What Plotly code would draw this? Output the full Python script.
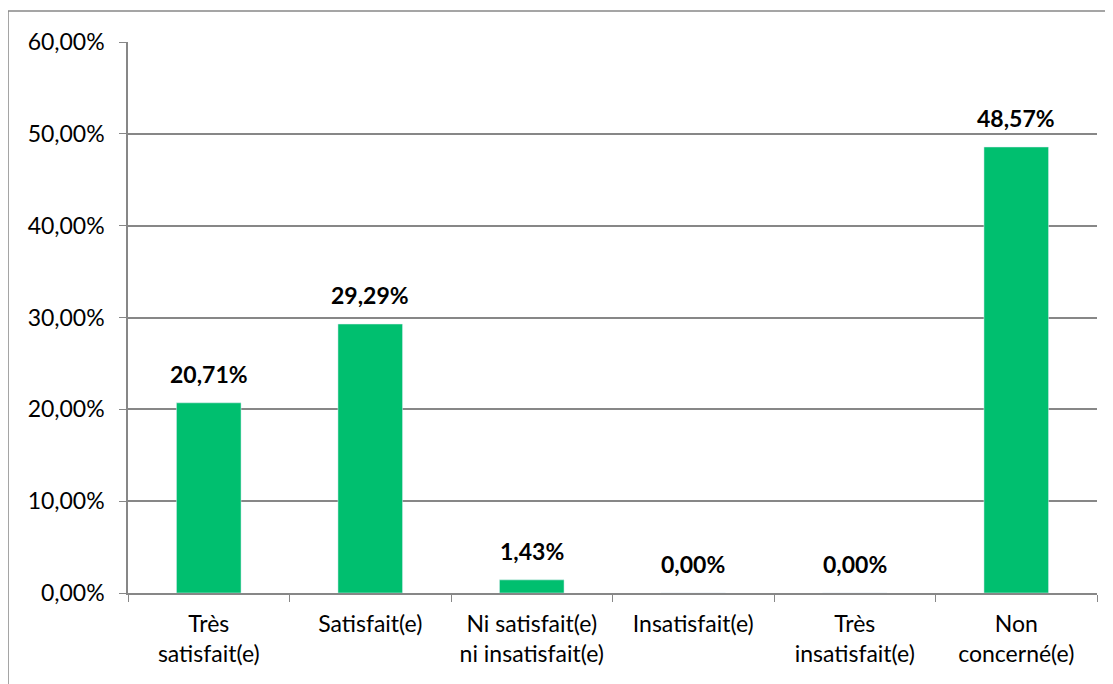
import plotly.graph_objects as go

categories = ["Très<br>satisfait(e)", "Satisfait(e)", "Ni satisfait(e)<br>ni insatisfait(e)",
              "Insatisfait(e)", "Très<br>insatisfait(e)", "Non<br>concerné(e)"]
values = [0.2071, 0.2929, 0.0143, 0.0, 0.0, 0.4857]

FONT = "Lato"
GRID = "#878787"
BAR = "#00BF6F"

# page has an 8px body margin; figure sized to fit the window
W, H = 1105, 676
L, R, T, B = 120, 16, 34, 91
pw, ph = W - L - R, H - T - B

fig = go.Figure()
fig.add_trace(go.Bar(x=categories, y=values, marker_color=BAR, width=0.4, hoverinfo="skip"))

for c, v in zip(categories, values):
    fig.add_annotation(x=c, y=v, text="<b>%s</b>" % ("{:.2f}%".format(v * 100).replace(".", ",")),
                       showarrow=False, yanchor="bottom", yshift=13,
                       font=dict(family=FONT, size=23, color="#000000"))

# chart outer border (top and left visible)
bx = (0 - L) / pw
by = 1 + (T - 3) / ph
fig.add_shape(type="line", xref="paper", yref="paper", x0=bx, x1=1.05, y0=by, y1=by,
              line=dict(color=GRID, width=1.5))
fig.add_shape(type="line", xref="paper", yref="paper", x0=bx, x1=bx, y0=by, y1=-0.3,
              line=dict(color=GRID, width=1.5))

fig.update_layout(
    width=W, height=H,
    margin=dict(l=L, r=R, t=T, b=B),
    paper_bgcolor="white", plot_bgcolor="white",
    separators=",.",
    showlegend=False,
    font=dict(family=FONT, size=23, color="#000000"),
)
fig.update_yaxes(range=[0, 0.6], dtick=0.1, tickformat=".2%", showgrid=True, gridcolor=GRID, gridwidth=1.5,
                 showline=True, linecolor=GRID, linewidth=1.5, ticks="outside", ticklen=7, tickcolor=GRID,
                 ticklabelstandoff=10, zeroline=False, fixedrange=True)
fig.update_xaxes(showline=True, linecolor=GRID, linewidth=1.5, ticks="outside", ticklen=7, tickcolor=GRID,
                 ticklabelstandoff=10, tickson="boundaries", showgrid=False, fixedrange=True)

fig.write_html("out.html")
